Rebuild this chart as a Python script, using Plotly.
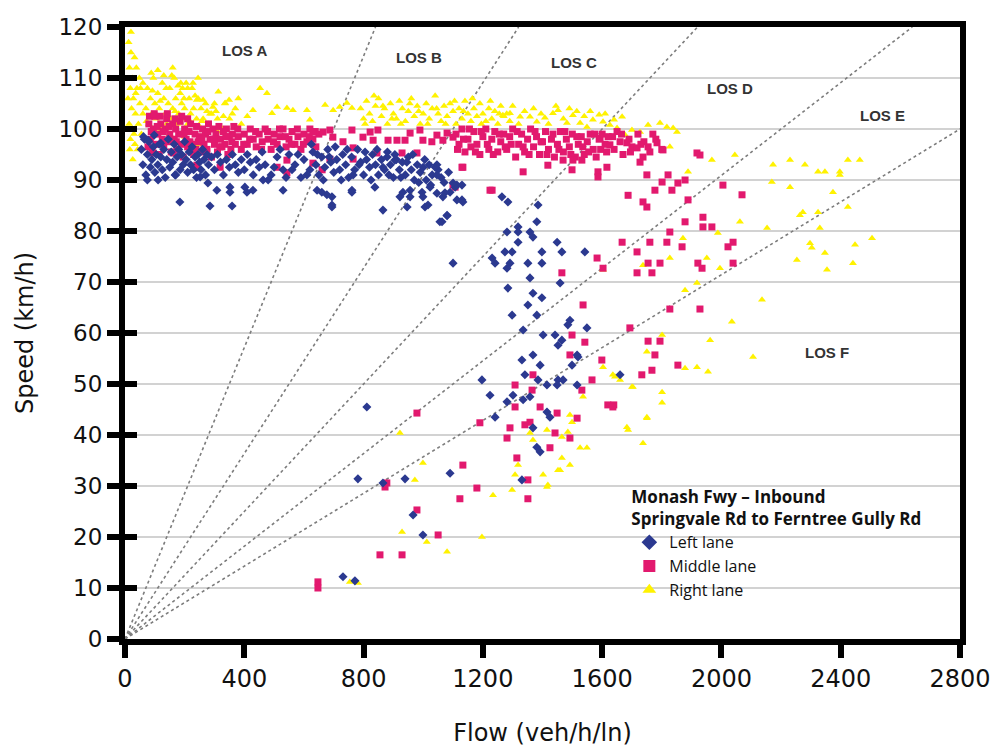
import plotly.graph_objects as go

# ---------------- data ----------------
x_ticks = [0, 400, 800, 1200, 1600, 2000, 2400, 2800]
y_ticks = [0, 10, 20, 30, 40, 50, 60, 70, 80, 90, 100, 110, 120]
los_density = [7, 11, 16, 22, 28]  # veh/km/ln boundaries
los_labels = ["LOS A", "LOS B", "LOS C", "LOS D", "LOS E", "LOS F"]
los_label_flow = [402, 986, 1506, 2029, 2539, 2354]
los_label_speed = [115.3, 114.1, 113.1, 108.0, 102.7, 56.1]

right_lane = [
    (12,117),(15,112),(18,108),(20,115),(22,104),(25,110),(14,101),(28,106),(30,99),(16,96),(35,103),(40,108),
    (45,101),(50,105),(26,94),(33,97),(38,112),(55,99),(60,103),(20,119),(42,96),(48,110),(10,106),(24,100),
    (32,114),(18,98),(36,107),(52,108),
    (70,104),(75,108),(80,101),(85,106),(90,103),(95,110),(100,105),(105,102),(110,107),(115,104),(120,100),
    (125,109),(130,106),(135,103),(140,101),(145,105),(150,108),(155,102),(160,104),(165,110),(170,106),
    (175,101),(180,103),(185,107),(190,105),(195,102),(200,104),(205,109),(210,101),(215,106),(220,103),
    (225,108),(230,104),(240,102),(245,106),(250,100.5),(255,104),(262,102),(270,105),(280,101),(290,103),
    (300,105),(310,102),(320,100.5),(335,105),(350,102),(370,104),(390,101),(228,109),(241,105.7),(262,105.7),
    (285,103),(295,104.3),(313,107.3),(336,105.1),(349,105.7),(429,103.7),(453,108),(476,107),(510,104.3),
    (543,104.1),(563,103.7),(610,103.7),(620,101.8),(493,103.1),(160,112),(157,110.5),(187,109),(193,108),
    (210,108),(245,110),(88,111),(110,111.5),(130,110.5),(60,109),(150,99),(200,98.5),(245,97),(310,99.5),
    (72,101.5),(92,107.5),(118,105.5),(138,108),(168,103.5),(178,108.5),(198,106),(218,101.5),(235,106.5),
    (258,101.5),(275,103.5),(305,103.5),(330,102.5),(360,103),(380,106),(410,102.5),
    (671,104.7),(698,103.7),(720,104.3),(744,105.1),(761,104.1),
    (790,104),(800,102),(810,105.5),(820,103),(830,101.5),(840,104.5),(850,106),(860,102.5),(870,104),(880,101),
    (890,105),(900,103),(910,102),(920,105.5),(930,104),(940,101.5),(950,103.5),(960,106),(970,102.5),(980,104.5),
    (990,101),(1000,103),(1010,105),(1020,102),(1030,104),(1040,106.5),(1050,103),(1060,101.5),(1070,104.5),
    (1080,102.5),(1090,105),(1100,103.5),(1110,101),(1120,104),(1130,102),(1140,105.5),(1150,103),(1160,101.5),
    (1170,104),(1180,102.5),(1190,105),(1200,103),(1210,101.5),(1220,104),(1230,102),(1240,103.5),(1250,101),
    (1260,104.5),(1270,102.5),(1280,103),(1290,101.5),
    (805,101),(835,106.5),(865,104.5),(895,102),(925,101),(955,105),(985,103.5),(1015,101),(1045,104),(1075,101),
    (1105,105.5),(1135,103.5),(1165,106),(1195,101),(1225,105.5),(1255,103),
    (1300,104.5),(1320,101),(1340,103.5),(1370,104),(1395,103),(1420,101),(1445,104.5),(1470,102),(1490,104),
    (1515,103.5),(1540,102.5),(1560,103.5),(1590,102.8),(1610,103),(1640,101.8),
    (1267,102.7),(1291,103.1),(1325,102.4),(1358,102.4),(1381,101.4),(1408,102.2),(1435,103.1),(1452,103.7),
    (1502,102.7),(1526,101.2),(1569,101.8),(1603,101.4),(1626,100.8),(1650,100.2),(1667,102.4),(1700,99.8),
    (1727,99.4),(1794,101.2),(1817,100.4),(1851,99.4),(1754,100.8),(1677,98.8),(1549,100.4),(1482,101.2),(1838,100.2),
    (1968,93.9),(2045,94.9),(2173,93),(2230,93.9),(2280,93),(2324,91.6),(2347,91.6),(2397,91.6),(2424,93.9),
    (2464,93.9),(2169,89.6),(2230,88.6),(2374,87.6),(2397,91),(2424,84.7),(1888,91.6),(1827,96.5),(2263,83.1),
    (2273,83.7),(2324,83.7),(2330,80.6),(2153,80.6),(2062,81.8),(2297,77.6),(2303,76.7),(2347,75.7),(2354,72.4),
    (2253,74.3),(2505,78.6),(1988,79.6),(1871,78.6),(1827,74.7),(1951,74.7),(1995,72.7),(1737,73.3),(1918,69.8),
    (1878,68.4),(2136,66.5),(2035,62.2),(1962,58.6),(2106,55.3),(1801,59.6),(1750,56.3),(1918,53.3),(1955,52.4),
    (1878,53.1),(1703,49.4),(1801,48.4),(1801,46.3),(1750,43.5),(1643,51.4),(1660,50.8),(2448,77.3),(2441,73.7),
    (1603,72.4),
    (1603,53.3),(1636,51.8),(1700,49.4),(1536,47.5),(1492,43.9),(1499,42.5),(1485,40.6),(1465,39.6),(1358,40.4),
    (1415,41),(1368,39),(1526,37.5),(1549,37.5),(1465,35.5),(1492,34.1),(1452,33.1),(1318,34.1),(1402,32.2),
    (1308,32.2),(1415,29.8),(1298,29.2),(1234,28.2),(1687,41),
    (922,40.4),(999,34.5),(972,31.2),(929,21),(1012,19),(1080,17.1),(1197,20),(754,11.2),(781,11),(1418,30.2),
    (1737,38.4),(1683,41.5),(1750,43.3),(1459,33.1),
]

middle_lane = [
    (80,101),(85,98),(90,96),(95,100),(100,102.5),(105,97),(110,99),(115,95),(120,101),(125,98),(130,96.5),
    (135,100),(140,102),(145,97.5),(150,99),(155,95.5),(160,101),(165,98),(170,100),(175,96),(180,99),(185,101.5),
    (190,97),(195,94.5),(200,100),(205,98),(210,96.5),(215,99.5),(220,101),(225,97),(230,95),(235,99),(240,100.5),
    (245,97.5),(250,98.5),(255,95.5),(260,100),(265,97),(270,99),(275,96),(280,101),(285,98),(290,94.5),(295,100),
    (300,97),(305,99),(310,95.5),(315,100.5),(320,98),(325,96.5),(330,99.5),(335,97),(340,100),(345,95),(350,98.5),
    (355,96),(360,99),(365,100.5),(370,97),(380,98.5),(390,96),(400,99),(410,97),(420,100),(430,98),(440,96.5),
    (450,99),(460,97.5),(470,100),(480,98),(490,96),(500,99),(510,97),(520,98.5),(530,100),(540,96.5),(550,98),
    (560,99.5),(570,97),(580,98.5),(590,96),(600,99),(610,97.5),(620,100),(630,98),(640,96.5),(650,99),
    (82,102.5),(98,103),(118,102.5),(142,103),(168,102),(190,102.5),(210,102),
    (88,99.5),(108,100.5),(128,99.5),(148,100.5),(172,97.5),(198,99),(218,97.5),(238,96),(258,98),(278,99.5),
    (298,98),(318,96.5),(338,98.5),(358,97.5),(378,100),(398,97),(418,98),(438,99.5),(458,96),(478,99.5),
    (498,97.5),(518,100),(538,98.5),(558,97),(578,100),(598,97),(618,98.5),(638,99.5),
    (630,99.4),(664,99.4),(687,99.8),(697,98.4),(731,97.5),(761,99.8),(765,96.3),(798,98.4),(822,99.4),(832,97.8),
    (848,99.8),(882,97.8),(912,97.8),(939,97.8),(956,99.2),(989,99.8),(999,97.8),(1029,97.5),(1046,98.8),
    (1066,97.8),(1080,99.2),(1100,98.4),(845,95.3),(929,95.3),(979,95.3),(1133,92.5),(630,93.3),(661,92),
    (687,94.1),(765,94.1),
    (1110,99),(1120,97),(1130,100),(1140,95.5),(1150,98),(1160,96.5),(1170,99.5),(1180,97),(1190,95),(1200,98.5),
    (1210,100),(1220,96),(1230,98),(1240,99.5),(1250,95.5),(1260,97.5),(1270,99),(1280,96),(1290,98.5),(1300,100),
    (1310,94.5),(1320,97),(1330,99),(1340,95.5),(1350,98),(1360,100),(1370,96.5),(1380,98.5),(1390,95),(1400,97.5),
    (1410,99.5),(1420,96),(1430,98),(1440,94.5),(1450,97),(1460,99.5),(1470,95.5),(1480,98),(1490,96.5),(1500,99),
    (1510,94.5),(1520,97),(1530,98.5),(1540,95),(1550,97.5),(1560,99),(1570,96),(1580,94.5),(1590,98),
    (1115,96),(1135,98),(1155,100),(1175,95.5),(1195,99.5),(1215,97),(1235,95),(1255,99),(1275,96.5),(1295,97),
    (1315,99.5),(1335,96.5),(1355,95),(1375,99.5),(1395,97.5),(1415,95),(1435,99),(1455,96),(1475,99.5),(1495,95),
    (1515,98.5),(1535,96.5),(1555,95.5),(1575,99),(1595,96),(1615,95.5),(1635,98.5),(1665,99),(1695,95.5),
    (1730,97),(1770,99),
    (1600,99),(1610,97),(1620,98.5),(1640,96),(1650,99.5),(1660,97.5),(1670,95),(1690,98),(1700,96.5),(1720,99),
    (1740,97.5),(1760,95.5),(1780,98),(1800,96),
    (1593,98.2),(1626,96.9),(1683,97.3),(1717,96.3),(1737,94.5),(1727,93.5),(1754,96.5),(1784,97.3),(1804,95.9),
    (1918,95.3),(1418,92.9),(1335,91.6),(1469,93.9),(1502,93.9),(1532,93.9),(1499,92),(1586,91.6),(1616,92.5),
    (1586,90.6),
    (1231,88),(1100,89),(1687,87),(1667,77.8),(1583,74.7),(1717,75.9),(1465,71.8),(1717,71.8),(1536,65.5),
    (1499,59.6),(1542,58.2),(1693,61),
    (1928,94.9),(1750,91),(1821,91),(1801,89.6),(1777,88),(1834,88),(1854,89.4),(1878,90),(1737,85.7),(1750,84.7),
    (1888,86.1),(2005,89),(2069,87.1),(1938,82.7),(1878,81.8),(1938,80.8),(1968,80.8),(1827,79.8),(1760,77.8),
    (1817,77.8),(1868,76.9),(2039,77.8),(2022,76.9),(1754,73.7),(1794,73.7),(1921,73.7),(1935,72.7),(2039,73.7),
    (1767,71.8),(1603,72.7),(1827,64.7),(1928,64.7),(1754,58.4),(1794,58.4),(1777,55.7),(1854,53.7),(1767,52.7),
    (1733,51.8),(1619,45.9),(1639,45.9),
    (1492,55.7),(1599,54.7),(1368,51.8),(1308,49.8),(1566,50.8),(1532,48.8),(1365,48.8),(1308,45.5),(1392,45.5),
    (1636,45.5),(1449,44.3),(1516,43.3),(1358,42.5),(1341,42),(1190,42.4),(1291,41.4),(1281,39.4),(1442,40.4),
    (1492,39.4),(1425,37.5),(1314,35.5),(1133,34.1),(1351,31.2),(1180,29.6),(1123,27.5),(1351,27.5),
    (979,44.3),(878,30.6),(872,29.8),(979,25.3),(1050,20.4),(855,16.5),(929,16.5),(647,11.2),(647,10),
    (235,92.5),(319,92.5),(510,92.5),(543,93.9),(94,95.3),(77,96.5),(241,92.9),(161,95.3),(543,91.4),(1130,92.5),
    (1224,88),(1107,88.6),
]

left_lane = [
    (55,96),(60,93),(65,98),(70,91),(75,95),(80,97.5),(85,92.5),(90,94),(95,96.5),(100,91.5),(105,95),(110,93),
    (115,97),(120,94.5),(125,92),(130,96),(135,90.5),(140,94),(145,98),(150,92.5),(155,95.5),(160,93.5),(165,97),
    (170,91),(175,94.5),(180,96),(185,92),(190,95),(195,93),(200,97.5),(205,94),(210,91.5),(215,95.5),(220,93),
    (225,96.5),(230,92),(235,94.5),(240,90.5),(245,95),(250,93.5),(255,92),(260,96),(265,94),(270,91),(275,95),
    (280,93),(290,94.5),(300,92),(310,95),(320,93.5),(330,91),(340,94),(350,92.5),(360,95),(370,93),(380,91.5),
    (390,94),(400,92),(410,95),(420,93.5),(430,91),(440,94),(450,92.5),
    (62,98.5),(78,97.8),(98,98.8),(120,97.2),
    (470,93),(490,91),(510,94.5),(530,92),(550,95),(570,93),(590,90.5),(600,94),(620,92),(630,95.5),(640,93),
    (650,91),(660,94.5),(670,92.5),(680,96),(690,93.5),(700,91.5),(710,94),(720,92),(730,95),(740,93),(750,90.5),
    (760,94.5),(770,92),(780,96),(790,93.5),(800,91),(810,94),(820,92.5),(830,95),(840,93),(850,91),(860,94),
    (870,92),(880,95.5),(890,93),(900,90.5),(910,94),(920,92),(930,93.5),(940,91),(950,94.5),(960,92),(970,90),
    (980,93),(990,91.5),(1000,92.5),(1010,90),(1020,93),(1030,91),(1050,92),(1070,89.5),
    (460,95.5),(480,90),(500,92.5),(520,96),(540,90.5),(560,92),(580,95),(610,91),(625,97),(645,95),(665,90),
    (685,94.5),(705,96.5),(725,90),(745,96),(765,91),(785,93),(805,95.5),(825,90),(845,96),(865,92.5),(885,91),
    (905,95),(925,90.5),(945,93.5),(965,95),(985,89.5),(1005,94),(1025,89),(1040,92.5),(1060,90.5),(1085,91.5),
    (75,90),(111,90),(168,91),(252,90.6),(278,89.4),(308,88),(352,88.6),(352,87.6),(402,88.6),(409,87.6),(429,88),
    (463,90),(530,88),(184,85.7),(285,84.9),(359,84.9),(660,87.6),(694,86.7),(694,85.1),(761,87.6),(865,84.1),
    (1056,81.8),(1080,83),(932,87.6),(956,86.7),(996,87.6),(1023,88.6),(1046,87.4),(1107,88.6),(1130,86.1),
    (879,94.5),(905,93.9),(1046,93),(1046,91),(1113,89),(1090,87.6),(1066,86.7),(999,86.7),(956,88),(922,86.7),
    (946,84.7),(1006,84.7),(1016,85.1),(838,88.6),(761,88),(677,87.1),(694,84.7),(644,88),
    (1073,87.5),(1100,89.4),(1130,89),(1113,86.1),(1133,85.7),(1080,83.1),(1063,81.8),(1264,86.7),(1284,85.7),
    (1385,85.1),(1381,81.8),(1318,80.8),(1281,79.8),(1318,79.8),(1358,79.8),(1368,78.8),(1318,77.8),(1449,77.8),
    (1274,75.9),(1298,75.9),(1398,75.9),(1465,75.9),(1542,75.9),(1100,73.7),(1231,74.7),(1241,73.7),(1291,73.7),
    (1351,73.7),(1398,73.7),(1281,72.7),(1358,70.8),(1284,68.8),(1368,67.8),(1398,66.9),(1351,65.5),(1298,63.5),
    (1381,63.5),(1492,62.5),(1485,61.6),(1549,61),(1335,60.6),(1402,59.6),(1442,59.6),(1465,58.6),(1452,57.6),
    (1459,69.8),(1519,55.3),
    (1368,55.7),(1331,54.7),(1392,53.7),(1499,53.7),(1516,55.7),(1341,51.8),(1385,50.8),(1197,50.8),(1415,49.8),
    (1452,50.8),(1469,50.8),(1449,49.8),(1516,49.8),(1660,51.8),(1224,47.8),(1301,47.8),(1335,46.9),(1358,47.5),
    (1281,46.5),(1241,43.5),(1415,44.5),(1425,43.5),(1368,41.4),(1381,37.6),(1392,36.7),(1090,32.5),(1331,31.2),
    (781,31.4),(939,31.4),(811,45.5),(865,30.6),(966,24.3),(999,20.4),(731,12.2),(771,11.4),
]

# ---------------- figure ----------------
fig = go.Figure()

for k in los_density:
    x_end = min(120 * k, 2800)
    fig.add_trace(go.Scatter(
        x=[0, x_end], y=[0, x_end / k], mode="lines",
        line=dict(color="#7d7d7d", width=1.6, dash="dot"),
        showlegend=False, hoverinfo="skip"))

series = [
    ("Right lane", right_lane, "triangle-up", "#FFF200", 7),
    ("Middle lane", middle_lane, "square", "#E2196E", 7),
    ("Left lane", left_lane, "diamond", "#2B3990", 7),
]
for name, pts, sym, col, sz in series:
    fig.add_trace(go.Scatter(
        x=[p[0] for p in pts], y=[p[1] for p in pts], mode="markers", name=name,
        marker=dict(symbol=sym, color=col, size=sz, line=dict(width=0))))

for txt, fx, sy in zip(los_labels, los_label_flow, los_label_speed):
    fig.add_annotation(x=fx, y=sy, xref="x", yref="y", text="<b>" + txt + "</b>", showarrow=False,
                       font=dict(family="Liberation Sans", size=15, color="#333333"))

# white panel behind legend
fig.add_shape(type="rect", xref="paper", yref="paper", x0=0.569, x1=1.0, y0=0.0, y1=0.28,
              fillcolor="white", line=dict(width=0), layer="between")

tick_font = dict(family="DejaVu Sans", size=23, color="#111111")
title_font = dict(family="DejaVu Sans", size=24, color="#111111")

fig.update_layout(
    width=990, height=749,
    margin=dict(l=125, r=30, t=27, b=110),
    paper_bgcolor="white", plot_bgcolor="white",
    showlegend=True,
    legend=dict(x=0.604, xanchor="left", y=0.258, yanchor="top",
                bgcolor="rgba(0,0,0,0)", traceorder="reversed", itemsizing="constant",
                font=dict(family="Open Sans", size=16, color="#111111"),
                title=dict(text="<b>Monash Fwy – Inbound<br>Springvale Rd to Ferntree Gully Rd</b>",
                           font=dict(family="Open Sans", size=17, color="#111111"))),
    xaxis=dict(range=[0, 2800], tickvals=x_ticks, ticks="outside", ticklen=13, tickwidth=6,
               tickcolor="black", showline=True, linewidth=6, linecolor="black", mirror=True,
               showgrid=False, zeroline=False, ticklabeloverflow="allow", automargin=False,
               tickfont=dict(family="DejaVu Sans", size=24, color="#111111"),
               title=dict(text="Flow (veh/h/ln)", font=title_font, standoff=34)),
    yaxis=dict(range=[0, 120], tickvals=y_ticks, ticks="outside", ticklen=12, tickwidth=6,
               tickcolor="black", showline=True, linewidth=6, linecolor="black", mirror=True,
               showgrid=True, gridcolor="#d2d2d2", gridwidth=2, zeroline=False, tickfont=tick_font,
               automargin=False,
               title=dict(text="Speed (km/h)", font=title_font, standoff=20)),
    yaxis2=dict(range=[0, 120], tickvals=y_ticks, overlaying="y", side="left", anchor="x",
                ticks="inside", ticklen=12, tickwidth=6, tickcolor="black", showticklabels=False,
                showgrid=False, showline=False, zeroline=False, automargin=False),
)
# invisible trace to make yaxis2 render
fig.add_trace(go.Scatter(x=[None], y=[None], yaxis="y2", showlegend=False, hoverinfo="skip"))

fig.write_html("out.html")
